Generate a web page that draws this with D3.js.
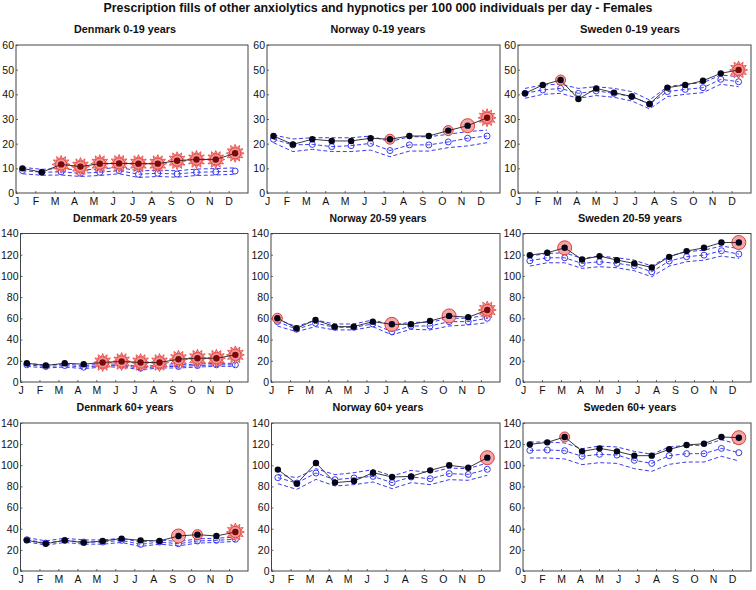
<!DOCTYPE html>
<html><head><meta charset="utf-8">
<script src="https://cdn.jsdelivr.net/npm/d3@7"></script>
<style>body{margin:0;background:#fff}svg{display:block}</style>
</head><body>
<svg id="c" width="756" height="590"></svg>
<script>
const monthLabels = ["J","F","M","A","M","J","J","A","S","O","N","D"];
const yTicks019 = [0,10,20,30,40,50,60];
const yTicksAdult = [0,20,40,60,80,100,120,140];
const mainTitle = "Prescription fills of other anxiolytics and hypnotics per 100 000 individuals per day - Females";

// Denmark 0-19 (monthly)
const dk019_obs = [10.0,8.4,11.6,10.7,11.9,12.0,11.9,11.9,13.1,13.6,13.6,16.1];
const dk019_exp = [9.1,8.4,8.6,8.0,8.4,9.1,7.6,8.0,7.7,8.4,8.6,8.9];
const dk019_hi  = [10.4,9.6,9.9,9.3,9.7,10.4,8.9,9.3,9.0,9.7,9.9,10.2];
const dk019_lo  = [7.8,7.2,7.3,6.7,7.1,7.8,6.3,6.7,6.4,7.1,7.3,7.6];
const dk019_sig = [0,0,3,3,3,3,3,3,3,3,3,3];
// Norway 0-19 (monthly)
const no019_obs = [23.1,19.7,21.8,21.1,21.1,22.2,21.8,23.1,23.1,25.3,27.3,30.5];
const no019_exp = [21.8,19.5,19.7,18.8,19.2,20.1,17.2,19.5,19.5,20.7,22.2,23.1];
const no019_hi  = [23.5,21.9,22.4,22.4,22.4,23.1,20.8,22.8,22.8,23.8,24.9,25.5];
const no019_lo  = [20.4,16.8,17.7,16.8,16.8,17.4,14.7,17.0,17.0,18.4,19.1,20.4];
const no019_sig = [0,0,0,0,0,0,1,0,0,1,2,3];
// Sweden 0-19 (13 four-week periods)
const se019_obs = [40.4,43.8,45.8,38.1,42.4,40.7,39.1,36.1,42.7,43.8,45.5,48.5,49.9];
const se019_exp = [40.4,41.8,42.4,40.4,41.4,40.4,39.1,36.1,41.1,42.0,42.7,46.1,45.1];
const se019_hi  = [42.4,43.8,44.1,42.4,43.1,42.4,41.1,37.7,43.1,44.1,44.7,47.8,47.2];
const se019_lo  = [38.4,40.0,40.4,38.4,39.5,38.8,37.3,34.1,39.1,40.0,40.7,44.1,43.1];
const se019_sig = [0,0,1,0,0,0,0,0,0,0,0,0,3];
// Denmark 20-59
const dk2059_obs = [17.7,15.5,17.7,16.8,18.4,19.3,18.4,18.4,21.5,22.4,22.4,25.6];
const dk2059_exp = [16.2,14.6,15.5,14.0,15.5,15.5,13.0,14.6,14.6,15.5,16.2,16.2];
const dk2059_hi  = [17.6,16.0,16.9,15.4,16.9,16.9,14.4,16.0,16.0,16.9,17.6,17.6];
const dk2059_lo  = [14.8,13.2,14.1,12.6,14.1,14.1,11.6,13.2,13.2,14.1,14.8,14.8];
const dk2059_sig = [0,0,0,0,3,3,3,3,3,3,3,3];
// Norway 20-59
const no2059_obs = [60.1,50.7,58.5,52.2,52.2,56.9,54.4,54.4,57.5,62.3,61.0,67.9];
const no2059_exp = [56.9,49.7,55.4,51.6,51.6,54.7,47.5,52.8,52.8,56.9,56.9,60.1];
const no2059_hi  = [59.1,52.2,58.5,54.7,54.7,58.5,53.8,56.3,56.3,60.1,60.1,63.2];
const no2059_lo  = [52.8,47.5,52.2,49.1,49.1,52.2,44.4,49.7,49.1,52.8,53.8,56.0];
const no2059_sig = [1,0,0,0,0,0,2,0,0,2,0,3];
// Sweden 20-59
const se2059_obs = [119.6,121.8,126.5,115.5,118.7,114.9,111.8,108.0,118.0,123.4,126.5,131.5,131.5];
const se2059_exp = [114.3,117.1,117.1,111.8,113.4,111.8,109.6,103.9,114.0,118.1,119.6,123.7,120.6];
const se2059_hi  = [118.7,121.2,121.8,116.5,118.7,117.1,114.9,109.3,118.7,122.8,124.3,128.1,125.9];
const se2059_lo  = [109.3,112.4,112.4,107.1,108.7,107.7,104.9,99.2,109.3,113.4,114.9,118.7,116.5];
const se2059_sig = [0,0,2,0,0,0,0,0,0,0,0,0,2];
// Denmark 60+
const dk60_obs = [29.0,25.8,29.0,26.8,28.4,30.6,29.0,28.4,33.1,34.4,33.1,36.9];
const dk60_exp = [29.6,26.5,29.0,27.4,27.4,29.0,25.2,27.4,25.8,28.4,29.0,30.0];
const dk60_hi  = [31.6,28.5,31.0,29.4,29.4,31.0,27.2,29.4,27.8,30.4,31.0,32.0];
const dk60_lo  = [27.6,24.5,27.0,25.4,25.4,27.0,23.2,25.4,23.8,26.4,27.0,28.0];
const dk60_sig = [0,0,0,0,0,0,0,0,2,1,0,3];
// Norway 60+
const no60_obs = [95.9,82.6,102.2,83.6,85.1,93.0,88.9,89.5,95.2,100.0,97.7,107.2];
const no60_exp = [88.3,83.2,92.7,86.4,88.0,89.5,83.6,88.9,87.3,92.1,91.4,96.2];
const no60_hi  = [91.1,88.3,96.8,91.1,93.0,95.9,89.9,95.2,93.0,97.4,96.8,102.2];
const no60_lo  = [82.6,77.2,86.7,80.4,81.7,84.2,77.9,83.6,81.7,86.4,85.8,90.5];
const no60_sig = [0,0,0,0,0,0,0,0,0,0,0,2];
// Sweden 60+
const se60_obs = [119.8,121.7,126.8,113.2,116.0,113.2,109.1,109.1,115.1,119.2,120.4,126.8,126.1];
const se60_exp = [114.1,114.5,113.8,108.5,110.4,109.7,104.7,101.8,109.1,111.0,111.0,116.0,111.9];
const se60_hi  = [122.0,122.0,121.1,115.7,118.2,117.3,113.2,110.4,117.3,118.9,118.9,124.2,119.8];
const se60_lo  = [106.9,106.9,106.0,100.6,102.5,101.8,96.8,94.3,100.9,103.1,103.1,108.5,104.1];
const se60_sig = [0,0,1,0,0,0,0,0,0,0,0,0,2];

const panels = [
  {t:"Denmark 0-19 years",  o:dk019_obs, e:dk019_exp, h:dk019_hi, l:dk019_lo, s:dk019_sig, ticks:yTicks019},
  {t:"Norway 0-19 years",   o:no019_obs, e:no019_exp, h:no019_hi, l:no019_lo, s:no019_sig, ticks:yTicks019},
  {t:"Sweden 0-19 years",   o:se019_obs, e:se019_exp, h:se019_hi, l:se019_lo, s:se019_sig, ticks:yTicks019},
  {t:"Denmark 20-59 years", o:dk2059_obs, e:dk2059_exp, h:dk2059_hi, l:dk2059_lo, s:dk2059_sig, ticks:yTicksAdult},
  {t:"Norway 20-59 years",  o:no2059_obs, e:no2059_exp, h:no2059_hi, l:no2059_lo, s:no2059_sig, ticks:yTicksAdult},
  {t:"Sweden 20-59 years",  o:se2059_obs, e:se2059_exp, h:se2059_hi, l:se2059_lo, s:se2059_sig, ticks:yTicksAdult},
  {t:"Denmark 60+ years",   o:dk60_obs, e:dk60_exp, h:dk60_hi, l:dk60_lo, s:dk60_sig, ticks:yTicksAdult},
  {t:"Norway 60+ years",    o:no60_obs, e:no60_exp, h:no60_hi, l:no60_lo, s:no60_sig, ticks:yTicksAdult},
  {t:"Sweden 60+ years",    o:se60_obs, e:se60_exp, h:se60_hi, l:se60_lo, s:se60_sig, ticks:yTicksAdult}
];

// layout
const rowTop = [45, 233.5, 423];
const rowBot = [193, 382, 571];
const colLeft = [[16, 267, 518], [20.5, 271, 523], [20.5, 271.5, 523]];
const colRight = [248, 500, 751];
const titleX = [125, 378, 630];
const subTitleW = [[102, 95, 100], [104, 97, 104], [97, 91, 93]];

const FONT = "'Liberation Sans', Arial, Helvetica, sans-serif";
const BLUE = "#3a3af0";
const svg = d3.select("#c");

svg.append("text").attr("x", 378).attr("y", 11.5).attr("text-anchor", "middle")
  .attr("font-family", FONT).attr("font-weight", "bold").attr("font-size", 12.5)
  .attr("textLength", 549).attr("lengthAdjust", "spacingAndGlyphs")
  .attr("fill", "#111").text(mainTitle);

const starPath = d3.lineRadial().curve(d3.curveLinearClosed)
  (d3.range(24).map(k => [k * Math.PI / 12, k % 2 === 0 ? 9 : 5.6]));

panels.forEach((p, idx) => {
  const r = Math.floor(idx / 3), c = idx % 3;
  const L = colLeft[r][c], R = colRight[c], T = rowTop[r], B = rowBot[r];
  const ymax = p.ticks[p.ticks.length - 1];
  const x = d3.scaleLinear().domain([0, 12]).range([L, R]);
  const y = d3.scaleLinear().domain([0, ymax]).range([B, T]);
  const n = p.o.length;
  const pos = i => n === 13 ? 0.36 + i * 11 / 12 : i + 1 / 3;
  const g = svg.append("g");

  g.append("text").attr("x", titleX[c]).attr("y", T - 12).attr("text-anchor", "middle")
    .attr("font-family", FONT).attr("font-weight", "bold").attr("font-size", 11.5)
    .attr("textLength", subTitleW[r][c]).attr("lengthAdjust", "spacingAndGlyphs")
    .attr("fill", "#111").text(p.t);

  const ya = g.append("g").attr("transform", `translate(${L},0)`)
    .call(d3.axisLeft(y).tickValues(p.ticks).tickSize(-2).tickPadding(2));
  ya.select(".domain").remove();
  ya.selectAll(".tick line").attr("stroke", "#666");
  ya.selectAll("text").attr("font-family", FONT).attr("font-size", 10.5).attr("fill", "#111");
  const xa = g.append("g").attr("transform", `translate(0,${B})`)
    .call(d3.axisBottom(x).tickValues(d3.range(12)).tickFormat(i => monthLabels[i]).tickSize(-2).tickPadding(5));
  xa.select(".domain").remove();
  xa.selectAll(".tick line").attr("stroke", "#666");
  xa.selectAll("text").attr("font-family", FONT).attr("font-size", 10.5).attr("fill", "#111");
  g.append("rect").attr("x", L).attr("y", T).attr("width", R - L).attr("height", B - T)
    .attr("fill", "none").attr("stroke", "#444").attr("stroke-width", 1);

  const line = arr => d3.line().x((d, i) => x(pos(i))).y(d => y(d))(arr);
  [p.h, p.l, p.e].forEach(arr => {
    g.append("path").attr("d", line(arr)).attr("fill", "none")
      .attr("stroke", BLUE).attr("stroke-width", 1).attr("stroke-dasharray", "4,2.5");
  });
  g.selectAll(".ec").data(p.e).join("circle")
    .attr("cx", (d, i) => x(pos(i))).attr("cy", d => y(d)).attr("r", 3)
    .attr("fill", "none").attr("stroke", BLUE).attr("stroke-width", 1);

  p.o.forEach((v, i) => {
    const s = p.s[i];
    if (!s) return;
    const cx = x(pos(i)), cy = y(v);
    if (s === 3) {
      g.append("path").attr("d", starPath).attr("transform", `translate(${cx},${cy})`)
        .attr("fill", "#f6a4a4").attr("stroke", "#e8403a").attr("stroke-width", 0.8);
      g.append("circle").attr("cx", cx).attr("cy", cy).attr("r", 5.6)
        .attr("fill", "#f49494").attr("stroke", "#e03a3a").attr("stroke-width", 0.8);
    } else {
      g.append("circle").attr("cx", cx).attr("cy", cy).attr("r", s === 2 ? 7 : 5)
        .attr("fill", "#f4a6a6").attr("stroke", "#dc3c3c").attr("stroke-width", 1);
    }
  });

  g.append("path").attr("d", line(p.o)).attr("fill", "none")
    .attr("stroke", "#222").attr("stroke-width", 0.9);
  g.selectAll(".oc").data(p.o).join("circle")
    .attr("cx", (d, i) => x(pos(i))).attr("cy", d => y(d)).attr("r", 3.2)
    .attr("fill", (d, i) => p.s[i] === 3 ? "#7a0a0a" : "#05051a");
});
</script>
</body></html>
